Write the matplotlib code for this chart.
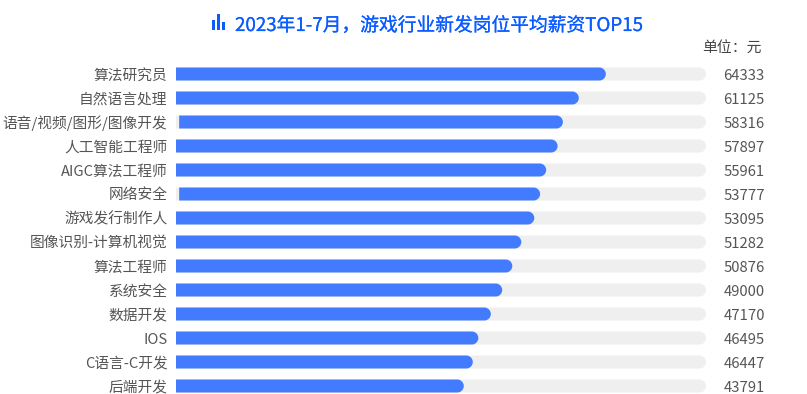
import matplotlib
matplotlib.use('Agg')
import matplotlib.pyplot as plt
import matplotlib.patheffects as pe
from matplotlib.patches import PathPatch
from matplotlib.path import Path

plt.rcParams['font.family'] = ['Noto Sans CJK SC', 'DejaVu Sans']

#-----------------------------#
#            Data
#-----------------------------#

jobs = ['算法研究员', '自然语言处理', '语音/视频/图形/图像开发', '人工智能工程师', 'AIGC算法工程师',
        '网络安全', '游戏发行制作人', '图像识别-计算机视觉', '算法工程师', '系统安全',
        '数据开发', 'IOS', 'C语言-C开发', '后端开发']
salary = [64333, 61125, 58316, 57897, 55961, 53777, 53095, 51282, 50876, 49000, 47170, 46495, 46447, 43791]

# bar length as % of the grey track (not proportional to salary)
bar_end = [81.1, 76.0, 73.0, 72.0, 69.85, 68.7, 67.6, 65.15, 63.45, 61.55, 59.4, 57.05, 56.0, 54.3]
bar_start = [0, 0, 0.6, 0, 0, 0.6, 0, 0, 0, 0, 0, 0, 0, 0]
track_end = 100
icon_bars = [0.6, 1.0, 0.45]

BLUE = '#437bff'
TRACK = '#efefef'
TITLE_BLUE = '#0b5cff'
GREY = '#555555'

W, H = 807, 394
LEFT, RIGHT = 176, 706
TOP, ROW, BAR_PX = 62, 24, 13

fig = plt.figure(figsize=(W / 100, H / 100), dpi=100)
ax = fig.add_axes([LEFT / W, 0, (RIGHT - LEFT) / W, (H - TOP) / H])
ax.set_xlim(0, 100)
ax.set_ylim((H - TOP) / ROW - 0.5, -0.5)
ax.axis('off')

rx = (BAR_PX / 2) / (RIGHT - LEFT) * 100  # cap radius in x units
ry = (BAR_PX / 2) / ROW                   # half bar height in y units
K = 0.5523


def rounded_bar(start, end, y, color, zorder):
    """Bar with a square left end and a round right end, in data coords."""
    mid = end - rx
    verts = [(start, y - ry), (mid, y - ry),
             (mid + K * rx, y - ry), (end, y - K * ry), (end, y),
             (end, y + K * ry), (mid + K * rx, y + ry), (mid, y + ry),
             (start, y + ry), (start, y - ry)]
    codes = [Path.MOVETO, Path.LINETO,
             Path.CURVE4, Path.CURVE4, Path.CURVE4,
             Path.CURVE4, Path.CURVE4, Path.CURVE4,
             Path.LINETO, Path.CLOSEPOLY]
    ax.add_patch(PathPatch(Path(verts, codes), facecolor=color, lw=0, zorder=zorder, clip_on=False))


for i, job in enumerate(jobs):
    rounded_bar(0, track_end, i, TRACK, 1)
    rounded_bar(bar_start[i], bar_end[i], i, BLUE, 2)
    ax.annotate(job, (0, i), xytext=(-8.5, 0), textcoords='offset pixels', ha='right', va='center_baseline',
                fontsize=10.6, color=GREY, annotation_clip=False)
    ax.annotate(str(salary[i]), (100, i), xytext=(17.5, 0), textcoords='offset pixels', ha='left', va='center_baseline',
                fontsize=10.7, color=GREY, annotation_clip=False)

# title and unit
title = fig.text(235 / W, 1 - 23 / H, '2023年1-7月，游戏行业新发岗位平均薪资TOP15', ha='left', va='center_baseline',
                 fontsize=13.5, color=TITLE_BLUE)
title.set_path_effects([pe.withStroke(linewidth=0.15, foreground=TITLE_BLUE)])
fig.text(762 / W, 1 - 47 / H, '单位：元', ha='right', va='center_baseline', fontsize=10.7, color='#444444')

# small bar-chart icon in front of the title
icon = fig.add_axes([211.5 / W, 1 - 29.5 / H, 14 / W, 16 / H])
icon.bar(range(len(icon_bars)), icon_bars, width=0.68, color=TITLE_BLUE)
icon.set_xlim(-0.4, 2.4)
icon.set_ylim(0, 1)
icon.axis('off')

fig.savefig('out.png', dpi=100)
